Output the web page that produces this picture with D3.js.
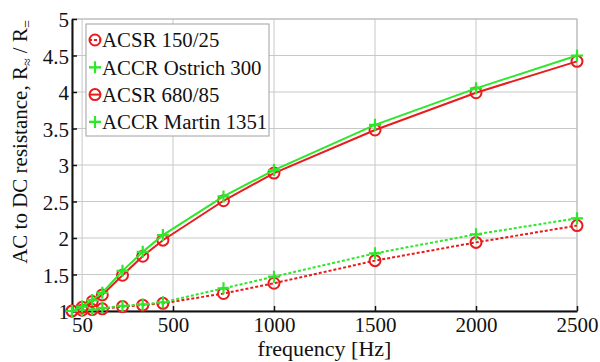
<!DOCTYPE html>
<html>
<head>
<meta charset="utf-8">
<script src="https://cdn.jsdelivr.net/npm/d3@7"></script>
<style>
    body { margin: 0; background: #fff; }
</style>
</head>
<body>
<div id="chart"></div>
<script>
// frequency points [Hz]
var freqs = [0, 50, 100, 150, 250, 350, 450, 750, 1000, 1500, 2000, 2500];

// AC/DC resistance ratio
var acsr150 = [1.0, 1.01, 1.02, 1.03, 1.06, 1.08, 1.105, 1.24, 1.38, 1.69, 1.94, 2.17];
var accrOstrich = [1.0, 1.01, 1.02, 1.04, 1.07, 1.09, 1.12, 1.31, 1.47, 1.79, 2.05, 2.27];
var acsr680 = [1.0, 1.05, 1.13, 1.22, 1.49, 1.75, 1.97, 2.51, 2.89, 3.48, 3.99, 4.42];
var accrMartin = [1.0, 1.06, 1.15, 1.25, 1.55, 1.81, 2.04, 2.57, 2.93, 3.55, 4.05, 4.5];

var xTicks = [50, 500, 1000, 1500, 2000, 2500];
var yTicks = [1, 1.5, 2, 2.5, 3, 3.5, 4, 4.5, 5];

var seriesNames = ["ACSR 150/25", "ACCR Ostrich 300", "ACSR 680/85", "ACCR Martin 1351"];

var red = "#e81c1c",
    green = "#2ee62a",
    serifFont = "'Liberation Serif', 'Times New Roman', serif";

var series = [
    {name: seriesNames[0], values: acsr150, color: red, marker: "circle", dashed: true},
    {name: seriesNames[1], values: accrOstrich, color: green, marker: "plus", dashed: true},
    {name: seriesNames[2], values: acsr680, color: red, marker: "circle", dashed: false},
    {name: seriesNames[3], values: accrMartin, color: green, marker: "plus", dashed: false}
];

var width = 600,
    height = 362,
    plotLeft = 72,
    plotRight = 577,
    plotTop = 19,
    plotBottom = 311;

var svg = d3.select("#chart").append("svg")
            .attr("width", width)
            .attr("height", height);

var x = d3.scaleLinear().domain([0, 2500]).range([plotLeft, plotRight]);
var y = d3.scaleLinear().domain([1, 5]).range([plotBottom, plotTop]);

// grid
svg.append("g").selectAll("line").data(xTicks).enter().append("line")
   .attr("x1", function(d) {return x(d); })
   .attr("x2", function(d) {return x(d); })
   .attr("y1", plotTop).attr("y2", plotBottom)
   .style("stroke", "#c8c8c8").style("stroke-width", 1);

svg.append("g").selectAll("line").data(yTicks).enter().append("line")
   .attr("y1", function(d) {return y(d); })
   .attr("y2", function(d) {return y(d); })
   .attr("x1", plotLeft).attr("x2", plotRight)
   .style("stroke", "#c8c8c8").style("stroke-width", 1);

// box (top / right in grey)
svg.append("rect")
   .attr("x", plotLeft).attr("y", plotTop)
   .attr("width", plotRight - plotLeft).attr("height", plotBottom - plotTop)
   .style("fill", "none").style("stroke", "#b8b8b8").style("stroke-width", 1);

// axes
var xAxis = d3.axisBottom(x).tickValues(xTicks).tickSizeInner(-5).tickSizeOuter(0).tickPadding(8)
              .tickFormat(d3.format("d"));
var yAxis = d3.axisLeft(y).tickValues(yTicks).tickSizeInner(-5).tickSizeOuter(0).tickPadding(6)
              .tickFormat(function(d) {return String(d); });

var gx = svg.append("g").attr("transform", "translate(0," + plotBottom + ")").call(xAxis);
var gy = svg.append("g").attr("transform", "translate(" + plotLeft + ",0)").call(yAxis);

[gx, gy].forEach(function(g) {
    g.attr("font-family", null).attr("font-size", null);
    g.select(".domain").style("stroke", "#111").style("stroke-width", 2);
    g.selectAll(".tick line").style("stroke", "#111").style("stroke-width", 1.5);
    g.selectAll(".tick text")
     .style("font-family", serifFont)
     .style("font-size", "21px")
     .style("fill", "#111");
});
gy.selectAll(".tick text").attr("dy", "0.36em").attr("x", -3);
gx.selectAll(".tick text").attr("dy", "0.62em");

// lines
var line = d3.line()
             .x(function(d) {return x(d.f); })
             .y(function(d) {return y(d.v); });

function pointsOf(s) {
    return freqs.map(function(f, i) {return {f: f, v: s.values[i]}; });
}

function drawMarker(g, type, color) {
    if (type === "circle") {
        g.append("circle").attr("r", 5.5)
         .style("fill", "none").style("stroke", color).style("stroke-width", 2);
    } else {
        g.append("path").attr("d", "M-6,0H6M0,-6V6")
         .style("stroke", color).style("stroke-width", 2.2);
    }
}

series.forEach(function(s) {
    var g = svg.append("g").attr("class", "series");
    g.append("path")
     .datum(pointsOf(s))
     .attr("d", line)
     .style("fill", "none")
     .style("stroke", s.color)
     .style("stroke-width", 2)
     .style("stroke-dasharray", s.dashed ? "3,2" : null);

    g.selectAll(".pt").data(pointsOf(s)).enter().append("g")
     .attr("class", "pt")
     .attr("transform", function(d) {return "translate(" + x(d.f) + "," + y(d.v) + ")"; })
     .each(function() {drawMarker(d3.select(this), s.marker, s.color); });
});

// legend
var legend = svg.append("g").attr("transform", "translate(86,24)");
legend.append("rect")
      .attr("width", 183).attr("height", 112)
      .style("fill", "#fff").style("stroke", "#a0a0a0").style("stroke-width", 1);

var rows = legend.selectAll(".legRow").data(series).enter().append("g")
                 .attr("class", "legRow")
                 .attr("transform", function(d, i) {return "translate(9," + (16 + i * 27.3) + ")"; });

rows.append("path")
    .attr("d", "M-6,0H6")
    .style("stroke", function(d) {return d.color; })
    .style("stroke-width", 2)
    .style("stroke-dasharray", function(d) {return d.dashed ? "3,2" : null; });

rows.each(function(d) {drawMarker(d3.select(this), d.marker, d.color); });

rows.append("text")
    .attr("x", 7)
    .attr("dy", "0.35em")
    .style("font-family", serifFont)
    .style("font-size", "20.8px")
    .style("fill", "#111")
    .text(function(d) {return d.name; });

// axis titles
svg.append("text")
   .attr("x", (plotLeft + plotRight) / 2)
   .attr("y", 356)
   .attr("text-anchor", "middle")
   .style("font-family", serifFont)
   .style("font-size", "22px")
   .style("fill", "#111")
   .text("frequency [Hz]");

var ylab = svg.append("text")
              .attr("transform", "translate(27,142) rotate(-90)")
              .attr("text-anchor", "middle")
              .style("font-family", serifFont)
              .style("font-size", "21px")
              .style("fill", "#111");
ylab.append("tspan").text("AC to DC resistance,  R");
ylab.append("tspan").attr("dy", 5).style("font-size", "14px").text("≈");
ylab.append("tspan").attr("dy", -5).text(" / R");
ylab.append("tspan").attr("dy", 5).style("font-size", "14px").text("=");
</script>
</body>
</html>
